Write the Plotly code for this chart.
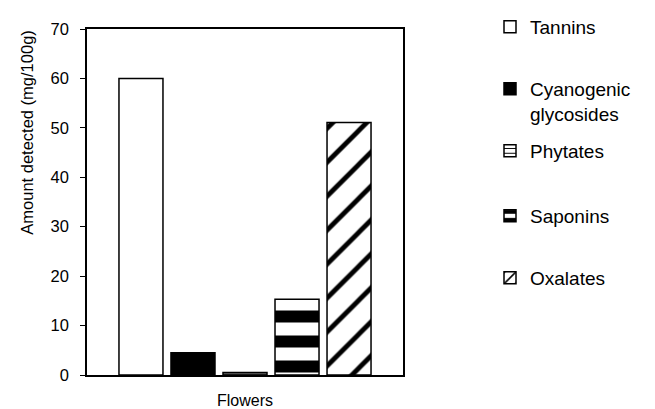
import plotly.graph_objects as go

compounds = ["Tannins", "Cyanogenic<br>glycosides", "Phytates", "Saponins", "Oxalates"]
amounts = [60, 4.5, 0.5, 15.3, 51.1]
group_label = "Flowers"
y_ticks = [0, 10, 20, 30, 40, 50, 60, 70]

patterns = [
    dict(shape="", bgcolor="white"),
    dict(shape="", bgcolor="black"),
    dict(shape="-", fgcolor="black", bgcolor="white", size=6, solidity=0.2, fgopacity=1),
    dict(shape="-", fgcolor="black", bgcolor="white", size=25, solidity=0.48, fgopacity=1),
    dict(shape="/", fgcolor="black", bgcolor="white", size=24, solidity=0.2, fgopacity=1),
]
fills = ["white", "black", "white", "white", "white"]

FONT = "Liberation Sans, Arial, sans-serif"
W, H = 647, 401  # page body has an 8px margin

# legend top positions (figure pixels)
legend_tops = [-1, 62, 124, 189, 251]
legend_ids = ["legend", "legend2", "legend3", "legend4", "legend5"]

fig = go.Figure()
for name, val, pat, fc, lid in zip(compounds, amounts, patterns, fills, legend_ids):
    fig.add_trace(go.Bar(
        x=[0], y=[val], name=name, legend=lid,
        marker=dict(color=fc, line=dict(color="black", width=1.5), pattern=pat),
    ))

legend_layout = {}
for lid, top in zip(legend_ids, legend_tops):
    legend_layout[lid] = dict(
        xref="container", yref="container",
        x=482 / W, y=1 - top / H, xanchor="left", yanchor="top",
        font=dict(size=19, family=FONT, color="black"),
        valign="top", itemwidth=30, bgcolor="rgba(0,0,0,0)",
    )

fig.update_layout(
    width=W, height=H,
    margin=dict(l=79, r=252, t=13, b=34),
    paper_bgcolor="white", plot_bgcolor="white",
    barmode="group", bargap=0.177, bargroupgap=0.154,
    font=dict(family=FONT, color="black"),
    showlegend=True,
    xaxis=dict(
        range=[-0.5, 0.5], showticklabels=False, ticks="",
        showline=True, linecolor="black", linewidth=1.5, mirror=True,
        showgrid=False, zeroline=False,
    ),
    yaxis=dict(
        range=[0, 70], tickvals=y_ticks, ticks="outside", ticklen=5,
        tickcolor="black", tickwidth=1.2, ticklabelstandoff=8,
        tickfont=dict(size=16.5, family=FONT, color="black"),
        showline=True, linecolor="black", linewidth=1.5, mirror=True,
        showgrid=False, zeroline=False,
    ),
    annotations=[
        dict(text="Amount detected (mg/100g)", textangle=-90,
             xref="paper", yref="paper", x=-0.19, y=0.703,
             xanchor="center", yanchor="middle", showarrow=False,
             font=dict(size=16.5, family=FONT, color="black")),
        dict(text=group_label, xref="paper", yref="paper", x=0.5, y=-0.0734,
             xanchor="center", yanchor="middle", showarrow=False,
             font=dict(size=16, family=FONT, color="black")),
    ],
    **legend_layout,
)

fig.write_html("out.html")
